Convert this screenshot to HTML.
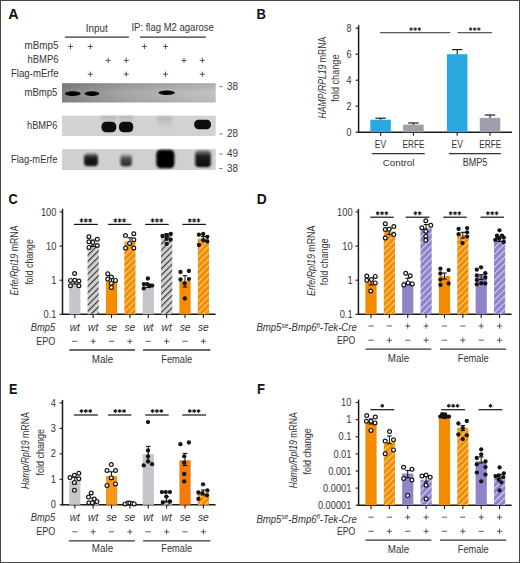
<!DOCTYPE html>
<html><head><meta charset="utf-8"><title>Figure</title>
<style>html,body{margin:0;padding:0;background:#fff;width:520px;height:563px;overflow:hidden}
text{font-family:"Liberation Sans", sans-serif}</style></head>
<body><svg width="520" height="563" viewBox="0 0 520 563" style="display:block;font-family:&quot;Liberation Sans&quot;, sans-serif"><text x="8.20" y="19.30" font-size="14.5" textLength="10.4" lengthAdjust="spacingAndGlyphs" style="font-weight:bold;" fill="#111">A</text>
<text x="256.50" y="19.30" font-size="14.5" textLength="9.4" lengthAdjust="spacingAndGlyphs" style="font-weight:bold;" fill="#111">B</text>
<text x="8.50" y="204.00" font-size="14.5" textLength="9.2" lengthAdjust="spacingAndGlyphs" style="font-weight:bold;" fill="#111">C</text>
<text x="256.70" y="204.00" font-size="14.5" textLength="10.0" lengthAdjust="spacingAndGlyphs" style="font-weight:bold;" fill="#111">D</text>
<text x="8.90" y="394.00" font-size="14.5" textLength="8.4" lengthAdjust="spacingAndGlyphs" style="font-weight:bold;" fill="#111">E</text>
<text x="257.00" y="393.70" font-size="14.5" textLength="8.0" lengthAdjust="spacingAndGlyphs" style="font-weight:bold;" fill="#111">F</text>
<text x="85.80" y="31.50" font-size="10.2" textLength="21.9" lengthAdjust="spacingAndGlyphs" style="" fill="#353535">Input</text>
<text x="131.40" y="31.40" font-size="10.2" textLength="82.5" lengthAdjust="spacingAndGlyphs" style="" fill="#353535">IP: flag M2 agarose</text>
<line x1="64.90" y1="37.20" x2="128.90" y2="37.20" stroke="#353535" stroke-width="1.3"/>
<line x1="140.00" y1="37.20" x2="205.80" y2="37.20" stroke="#353535" stroke-width="1.3"/>
<text x="58.50" y="49.20" font-size="10.2" text-anchor="end" textLength="34.0" lengthAdjust="spacingAndGlyphs" style="" fill="#353535">mBmp5</text>
<text x="58.50" y="62.70" font-size="10.2" text-anchor="end" textLength="31.1" lengthAdjust="spacingAndGlyphs" style="" fill="#353535">hBMP6</text>
<text x="58.50" y="77.00" font-size="10.2" text-anchor="end" textLength="47.5" lengthAdjust="spacingAndGlyphs" style="" fill="#353535">Flag-mErfe</text>
<line x1="67.90" y1="46.50" x2="73.10" y2="46.50" stroke="#333" stroke-width="0.8"/>
<line x1="70.50" y1="43.90" x2="70.50" y2="49.10" stroke="#333" stroke-width="0.8"/>
<line x1="87.70" y1="46.50" x2="92.90" y2="46.50" stroke="#333" stroke-width="0.8"/>
<line x1="90.30" y1="43.90" x2="90.30" y2="49.10" stroke="#333" stroke-width="0.8"/>
<line x1="141.80" y1="46.50" x2="147.00" y2="46.50" stroke="#333" stroke-width="0.8"/>
<line x1="144.40" y1="43.90" x2="144.40" y2="49.10" stroke="#333" stroke-width="0.8"/>
<line x1="162.90" y1="46.50" x2="168.10" y2="46.50" stroke="#333" stroke-width="0.8"/>
<line x1="165.50" y1="43.90" x2="165.50" y2="49.10" stroke="#333" stroke-width="0.8"/>
<line x1="105.60" y1="60.40" x2="110.80" y2="60.40" stroke="#333" stroke-width="0.8"/>
<line x1="108.20" y1="57.80" x2="108.20" y2="63.00" stroke="#333" stroke-width="0.8"/>
<line x1="123.60" y1="60.40" x2="128.80" y2="60.40" stroke="#333" stroke-width="0.8"/>
<line x1="126.20" y1="57.80" x2="126.20" y2="63.00" stroke="#333" stroke-width="0.8"/>
<line x1="181.40" y1="60.40" x2="186.60" y2="60.40" stroke="#333" stroke-width="0.8"/>
<line x1="184.00" y1="57.80" x2="184.00" y2="63.00" stroke="#333" stroke-width="0.8"/>
<line x1="199.70" y1="60.40" x2="204.90" y2="60.40" stroke="#333" stroke-width="0.8"/>
<line x1="202.30" y1="57.80" x2="202.30" y2="63.00" stroke="#333" stroke-width="0.8"/>
<line x1="87.70" y1="74.20" x2="92.90" y2="74.20" stroke="#333" stroke-width="0.8"/>
<line x1="90.30" y1="71.60" x2="90.30" y2="76.80" stroke="#333" stroke-width="0.8"/>
<line x1="123.60" y1="74.20" x2="128.80" y2="74.20" stroke="#333" stroke-width="0.8"/>
<line x1="126.20" y1="71.60" x2="126.20" y2="76.80" stroke="#333" stroke-width="0.8"/>
<line x1="162.90" y1="74.20" x2="168.10" y2="74.20" stroke="#333" stroke-width="0.8"/>
<line x1="165.50" y1="71.60" x2="165.50" y2="76.80" stroke="#333" stroke-width="0.8"/>
<line x1="199.70" y1="74.20" x2="204.90" y2="74.20" stroke="#333" stroke-width="0.8"/>
<line x1="202.30" y1="71.60" x2="202.30" y2="76.80" stroke="#333" stroke-width="0.8"/>
<defs><linearGradient id="g1" x1="0" y1="0" x2="1" y2="0"><stop offset="0" stop-color="#858585"/><stop offset="0.2" stop-color="#979797"/><stop offset="0.45" stop-color="#aaaaaa"/><stop offset="0.75" stop-color="#bababa"/><stop offset="1" stop-color="#c4c4c4"/></linearGradient><linearGradient id="g1v" x1="0" y1="0" x2="0" y2="1"><stop offset="0" stop-color="#000" stop-opacity="0.12"/><stop offset="0.5" stop-color="#000" stop-opacity="0"/><stop offset="1" stop-color="#000" stop-opacity="0.06"/></linearGradient><linearGradient id="gb3" x1="0" y1="0" x2="0" y2="1"><stop offset="0" stop-color="#111" stop-opacity="0.45"/><stop offset="0.35" stop-color="#111" stop-opacity="0.92"/><stop offset="1" stop-color="#050505" stop-opacity="1"/></linearGradient><linearGradient id="gb4" x1="0" y1="0" x2="0" y2="1"><stop offset="0" stop-color="#222" stop-opacity="0.3"/><stop offset="0.4" stop-color="#1a1a1a" stop-opacity="0.75"/><stop offset="1" stop-color="#111" stop-opacity="0.9"/></linearGradient><linearGradient id="gsm" x1="0" y1="0" x2="0" y2="1"><stop offset="0" stop-color="#999" stop-opacity="0.55"/><stop offset="1" stop-color="#bbb" stop-opacity="0"/></linearGradient><filter id="bl" x="-50%" y="-50%" width="200%" height="200%"><feGaussianBlur stdDeviation="0.7"/></filter><filter id="bl2" x="-50%" y="-50%" width="200%" height="200%"><feGaussianBlur stdDeviation="1.2"/></filter></defs>
<rect x="62.00" y="83.20" width="153.70" height="19.30" fill="url(#g1)"/>
<rect x="62.00" y="83.20" width="153.70" height="19.30" fill="url(#g1v)"/>
<rect x="62.00" y="115.60" width="153.70" height="20.40" fill="#d2d2d2"/>
<rect x="62.00" y="149.20" width="153.70" height="20.80" fill="#d0d0d0"/>
<ellipse cx="72.7" cy="93.6" rx="7.9" ry="2.4" fill="#060606" filter="url(#bl)"/>
<ellipse cx="92" cy="93.6" rx="7.4" ry="2.3" fill="#060606" filter="url(#bl)"/>
<ellipse cx="166.7" cy="92.8" rx="8.3" ry="2.2" fill="#060606" filter="url(#bl)"/>
<rect x="101" y="116" width="15" height="9" fill="url(#gsm)" filter="url(#bl2)"/>
<rect x="119" y="116" width="14" height="9" fill="url(#gsm)" filter="url(#bl2)"/>
<rect x="157" y="116.5" width="15" height="13" fill="url(#gsm)" filter="url(#bl2)"/>
<rect x="101.50" y="121.80" width="14.80" height="10.40" rx="4.5" fill="#080808" filter="url(#bl)"/>
<rect x="119.00" y="121.80" width="14.20" height="10.40" rx="4.5" fill="#080808" filter="url(#bl)"/>
<rect x="194.20" y="119.80" width="16.80" height="9.40" rx="4.5" fill="#080808" filter="url(#bl)"/>
<rect x="84.00" y="153.50" width="14.00" height="12.50" rx="3.5" fill="url(#gb3)" filter="url(#bl2)"/>
<rect x="120.40" y="154.50" width="11.40" height="11.70" rx="3" fill="url(#gb4)" filter="url(#bl2)"/>
<rect x="156.30" y="149.80" width="18.10" height="18.50" rx="4.5" fill="#050505" filter="url(#bl2)"/>
<rect x="195.20" y="150.50" width="15.60" height="16.50" rx="3.5" fill="url(#gb3)" filter="url(#bl2)"/>
<text x="57.40" y="96.00" font-size="10.2" text-anchor="end" textLength="32.9" lengthAdjust="spacingAndGlyphs" style="" fill="#353535">mBmp5</text>
<text x="57.40" y="129.00" font-size="10.2" text-anchor="end" textLength="30.4" lengthAdjust="spacingAndGlyphs" style="" fill="#353535">hBMP6</text>
<text x="57.40" y="163.10" font-size="10.2" text-anchor="end" textLength="46.4" lengthAdjust="spacingAndGlyphs" style="" fill="#353535">Flag-mErfe</text>
<line x1="219.50" y1="86.60" x2="222.30" y2="86.60" stroke="#444" stroke-width="0.8"/>
<text x="226.90" y="90.00" font-size="10.2" textLength="11.0" lengthAdjust="spacingAndGlyphs" style="" fill="#353535">38</text>
<line x1="219.50" y1="133.90" x2="222.30" y2="133.90" stroke="#444" stroke-width="0.8"/>
<text x="226.90" y="137.30" font-size="10.2" textLength="11.0" lengthAdjust="spacingAndGlyphs" style="" fill="#353535">28</text>
<line x1="219.50" y1="154.00" x2="222.30" y2="154.00" stroke="#444" stroke-width="0.8"/>
<text x="226.90" y="157.40" font-size="10.2" textLength="11.0" lengthAdjust="spacingAndGlyphs" style="" fill="#353535">49</text>
<line x1="219.50" y1="168.50" x2="222.30" y2="168.50" stroke="#444" stroke-width="0.8"/>
<text x="226.90" y="171.90" font-size="10.2" textLength="11.0" lengthAdjust="spacingAndGlyphs" style="" fill="#353535">38</text>
<line x1="358.60" y1="25.20" x2="358.60" y2="132.90" stroke="#1a1a1a" stroke-width="1.5"/>
<line x1="357.90" y1="132.20" x2="512.00" y2="132.20" stroke="#1a1a1a" stroke-width="1.5"/>
<line x1="355.60" y1="132.20" x2="358.60" y2="132.20" stroke="#1a1a1a" stroke-width="1.1"/>
<text x="351.50" y="135.80" font-size="10.3" text-anchor="end" textLength="5.0" lengthAdjust="spacingAndGlyphs" style="" fill="#353535">0</text>
<line x1="355.60" y1="106.20" x2="358.60" y2="106.20" stroke="#1a1a1a" stroke-width="1.1"/>
<text x="351.50" y="109.80" font-size="10.3" text-anchor="end" textLength="5.0" lengthAdjust="spacingAndGlyphs" style="" fill="#353535">2</text>
<line x1="355.60" y1="80.20" x2="358.60" y2="80.20" stroke="#1a1a1a" stroke-width="1.1"/>
<text x="351.50" y="83.80" font-size="10.3" text-anchor="end" textLength="5.0" lengthAdjust="spacingAndGlyphs" style="" fill="#353535">4</text>
<line x1="355.60" y1="54.20" x2="358.60" y2="54.20" stroke="#1a1a1a" stroke-width="1.1"/>
<text x="351.50" y="57.80" font-size="10.3" text-anchor="end" textLength="5.0" lengthAdjust="spacingAndGlyphs" style="" fill="#353535">6</text>
<line x1="355.60" y1="28.20" x2="358.60" y2="28.20" stroke="#1a1a1a" stroke-width="1.1"/>
<text x="351.50" y="31.80" font-size="10.3" text-anchor="end" textLength="5.0" lengthAdjust="spacingAndGlyphs" style="" fill="#353535">8</text>
<rect x="370.35" y="119.72" width="20.50" height="12.48" fill="#29a9e0"/>
<line x1="380.60" y1="119.72" x2="380.60" y2="118.20" stroke="#1a1a1a" stroke-width="1.1"/>
<line x1="375.40" y1="118.20" x2="385.80" y2="118.20" stroke="#1a1a1a" stroke-width="1.2"/>
<line x1="380.60" y1="132.20" x2="380.60" y2="135.80" stroke="#1a1a1a" stroke-width="1.1"/>
<rect x="403.15" y="124.66" width="20.50" height="7.54" fill="#a09eab"/>
<line x1="413.40" y1="124.66" x2="413.40" y2="123.00" stroke="#1a1a1a" stroke-width="1.1"/>
<line x1="408.20" y1="123.00" x2="418.60" y2="123.00" stroke="#1a1a1a" stroke-width="1.2"/>
<line x1="413.40" y1="132.20" x2="413.40" y2="135.80" stroke="#1a1a1a" stroke-width="1.1"/>
<rect x="446.95" y="54.20" width="20.50" height="78.00" fill="#29a9e0"/>
<line x1="457.20" y1="54.20" x2="457.20" y2="49.60" stroke="#1a1a1a" stroke-width="1.1"/>
<line x1="452.00" y1="49.60" x2="462.40" y2="49.60" stroke="#1a1a1a" stroke-width="1.2"/>
<line x1="457.20" y1="132.20" x2="457.20" y2="135.80" stroke="#1a1a1a" stroke-width="1.1"/>
<rect x="479.75" y="117.90" width="20.50" height="14.30" fill="#a09eab"/>
<line x1="490.00" y1="117.90" x2="490.00" y2="115.00" stroke="#1a1a1a" stroke-width="1.1"/>
<line x1="484.80" y1="115.00" x2="495.20" y2="115.00" stroke="#1a1a1a" stroke-width="1.2"/>
<line x1="490.00" y1="132.20" x2="490.00" y2="135.80" stroke="#1a1a1a" stroke-width="1.1"/>
<text x="380.40" y="148.00" font-size="10.8" text-anchor="middle" textLength="11.3" lengthAdjust="spacingAndGlyphs" style="" fill="#353535">EV</text>
<text x="413.50" y="148.00" font-size="10.8" text-anchor="middle" textLength="22.0" lengthAdjust="spacingAndGlyphs" style="" fill="#353535">ERFE</text>
<text x="457.20" y="148.00" font-size="10.8" text-anchor="middle" textLength="11.3" lengthAdjust="spacingAndGlyphs" style="" fill="#353535">EV</text>
<text x="490.20" y="148.00" font-size="10.8" text-anchor="middle" textLength="22.0" lengthAdjust="spacingAndGlyphs" style="" fill="#353535">ERFE</text>
<line x1="371.90" y1="153.70" x2="424.70" y2="153.70" stroke="#353535" stroke-width="1.3"/>
<line x1="448.90" y1="153.70" x2="500.80" y2="153.70" stroke="#353535" stroke-width="1.3"/>
<text x="398.60" y="165.80" font-size="9.8" text-anchor="middle" textLength="31.8" lengthAdjust="spacingAndGlyphs" style="" fill="#353535">Control</text>
<text x="475.10" y="165.80" font-size="10" text-anchor="middle" textLength="24.6" lengthAdjust="spacingAndGlyphs" style="" fill="#353535">BMP5</text>
<line x1="380.00" y1="32.70" x2="450.30" y2="32.70" stroke="#5a5a5a" stroke-width="1.3"/>
<line x1="457.70" y1="32.70" x2="492.00" y2="32.70" stroke="#5a5a5a" stroke-width="1.3"/>
<path d="M411.10,27.65L411.10,30.35M412.27,28.32L409.93,29.68M412.27,29.68L409.93,28.32" stroke="#3a3a3a" stroke-width="1.05" stroke-linecap="round"/>
<path d="M415.20,27.65L415.20,30.35M416.37,28.32L414.03,29.68M416.37,29.68L414.03,28.32" stroke="#3a3a3a" stroke-width="1.05" stroke-linecap="round"/>
<path d="M419.30,27.65L419.30,30.35M420.47,28.32L418.13,29.68M420.47,29.68L418.13,28.32" stroke="#3a3a3a" stroke-width="1.05" stroke-linecap="round"/>
<path d="M470.70,27.65L470.70,30.35M471.87,28.32L469.53,29.68M471.87,29.68L469.53,28.32" stroke="#3a3a3a" stroke-width="1.05" stroke-linecap="round"/>
<path d="M474.80,27.65L474.80,30.35M475.97,28.32L473.63,29.68M475.97,29.68L473.63,28.32" stroke="#3a3a3a" stroke-width="1.05" stroke-linecap="round"/>
<path d="M478.90,27.65L478.90,30.35M480.07,28.32L477.73,29.68M480.07,29.68L477.73,28.32" stroke="#3a3a3a" stroke-width="1.05" stroke-linecap="round"/>
<text transform="translate(326.00,77.60) rotate(-90)" font-size="11.6" text-anchor="middle" textLength="81.8" lengthAdjust="spacingAndGlyphs" style="" fill="#353535"><tspan style="font-style:italic">HAMP/RPL19</tspan> mRNA</text>
<text transform="translate(338.60,78.10) rotate(-90)" font-size="10.2" text-anchor="middle" textLength="47.2" lengthAdjust="spacingAndGlyphs" style="" fill="#353535">fold change</text>
<defs><pattern id="hg" width="4.4" height="4.4" patternUnits="userSpaceOnUse" patternTransform="rotate(45)"><rect width="4.4" height="4.4" fill="#d0d0d5"/><rect x="0" y="0" width="1.1" height="4.4" fill="#333333"/></pattern></defs>
<defs><pattern id="ho" width="4.4" height="4.4" patternUnits="userSpaceOnUse" patternTransform="rotate(45)"><rect width="4.4" height="4.4" fill="#f08c0a"/><rect x="0" y="0" width="1.1" height="4.4" fill="#ffcf6e"/></pattern></defs>
<defs><pattern id="hp" width="4.6" height="4.6" patternUnits="userSpaceOnUse" patternTransform="rotate(45)"><rect width="4.6" height="4.6" fill="#9084c8"/><rect x="0" y="0" width="0.95" height="4.6" fill="#ddd6ff"/></pattern></defs>
<line x1="62.50" y1="208.90" x2="62.50" y2="315.00" stroke="#1a1a1a" stroke-width="1.5"/>
<line x1="61.80" y1="314.30" x2="215.60" y2="314.30" stroke="#1a1a1a" stroke-width="1.5"/>
<line x1="59.60" y1="211.90" x2="62.50" y2="211.90" stroke="#1a1a1a" stroke-width="1.1"/>
<text x="56.40" y="215.50" font-size="10.3" text-anchor="end" textLength="15.5" lengthAdjust="spacingAndGlyphs" style="" fill="#353535">100</text>
<line x1="59.60" y1="246.10" x2="62.50" y2="246.10" stroke="#1a1a1a" stroke-width="1.1"/>
<text x="56.40" y="249.70" font-size="10.3" text-anchor="end" textLength="10.3" lengthAdjust="spacingAndGlyphs" style="" fill="#353535">10</text>
<line x1="59.60" y1="280.20" x2="62.50" y2="280.20" stroke="#1a1a1a" stroke-width="1.1"/>
<text x="56.40" y="283.80" font-size="10.3" text-anchor="end" textLength="5.2" lengthAdjust="spacingAndGlyphs" style="" fill="#353535">1</text>
<line x1="59.60" y1="314.30" x2="62.50" y2="314.30" stroke="#1a1a1a" stroke-width="1.1"/>
<text x="56.40" y="317.90" font-size="10.3" text-anchor="end" textLength="12.9" lengthAdjust="spacingAndGlyphs" style="" fill="#353535">0.1</text>
<rect x="69.20" y="282.60" width="11.20" height="31.70" fill="#c6c5cb"/>
<line x1="74.80" y1="314.30" x2="74.80" y2="318.10" stroke="#1a1a1a" stroke-width="1.1"/>
<rect x="87.57" y="244.80" width="11.20" height="69.50" fill="url(#hg)"/>
<line x1="93.17" y1="314.30" x2="93.17" y2="318.10" stroke="#1a1a1a" stroke-width="1.1"/>
<rect x="105.94" y="281.00" width="11.20" height="33.30" fill="#f58c00"/>
<line x1="111.54" y1="314.30" x2="111.54" y2="318.10" stroke="#1a1a1a" stroke-width="1.1"/>
<rect x="124.31" y="241.30" width="11.20" height="73.00" fill="url(#ho)"/>
<line x1="129.91" y1="314.30" x2="129.91" y2="318.10" stroke="#1a1a1a" stroke-width="1.1"/>
<rect x="142.68" y="286.20" width="11.20" height="28.10" fill="#c6c5cb"/>
<line x1="148.28" y1="314.30" x2="148.28" y2="318.10" stroke="#1a1a1a" stroke-width="1.1"/>
<rect x="161.05" y="235.60" width="11.20" height="78.70" fill="url(#hg)"/>
<line x1="166.65" y1="314.30" x2="166.65" y2="318.10" stroke="#1a1a1a" stroke-width="1.1"/>
<rect x="179.42" y="281.00" width="11.20" height="33.30" fill="#f58c00"/>
<line x1="185.02" y1="314.30" x2="185.02" y2="318.10" stroke="#1a1a1a" stroke-width="1.1"/>
<rect x="197.79" y="238.70" width="11.20" height="75.60" fill="url(#ho)"/>
<line x1="203.39" y1="314.30" x2="203.39" y2="318.10" stroke="#1a1a1a" stroke-width="1.1"/>
<line x1="73.90" y1="224.40" x2="97.80" y2="224.40" stroke="#151515" stroke-width="1.2"/>
<path d="M81.50,218.85L81.50,221.95M82.84,219.62L80.16,221.18M82.84,221.18L80.16,219.62" stroke="#1a1a1a" stroke-width="1.05" stroke-linecap="round"/>
<path d="M85.85,218.85L85.85,221.95M87.19,219.62L84.51,221.18M87.19,221.18L84.51,219.62" stroke="#1a1a1a" stroke-width="1.05" stroke-linecap="round"/>
<path d="M90.20,218.85L90.20,221.95M91.54,219.62L88.86,221.18M91.54,221.18L88.86,219.62" stroke="#1a1a1a" stroke-width="1.05" stroke-linecap="round"/>
<line x1="108.00" y1="224.40" x2="131.40" y2="224.40" stroke="#151515" stroke-width="1.2"/>
<path d="M115.35,218.85L115.35,221.95M116.69,219.62L114.01,221.18M116.69,221.18L114.01,219.62" stroke="#1a1a1a" stroke-width="1.05" stroke-linecap="round"/>
<path d="M119.70,218.85L119.70,221.95M121.04,219.62L118.36,221.18M121.04,221.18L118.36,219.62" stroke="#1a1a1a" stroke-width="1.05" stroke-linecap="round"/>
<path d="M124.05,218.85L124.05,221.95M125.39,219.62L122.71,221.18M125.39,221.18L122.71,219.62" stroke="#1a1a1a" stroke-width="1.05" stroke-linecap="round"/>
<line x1="145.20" y1="224.40" x2="168.70" y2="224.40" stroke="#151515" stroke-width="1.2"/>
<path d="M152.60,218.85L152.60,221.95M153.94,219.62L151.26,221.18M153.94,221.18L151.26,219.62" stroke="#1a1a1a" stroke-width="1.05" stroke-linecap="round"/>
<path d="M156.95,218.85L156.95,221.95M158.29,219.62L155.61,221.18M158.29,221.18L155.61,219.62" stroke="#1a1a1a" stroke-width="1.05" stroke-linecap="round"/>
<path d="M161.30,218.85L161.30,221.95M162.64,219.62L159.96,221.18M162.64,221.18L159.96,219.62" stroke="#1a1a1a" stroke-width="1.05" stroke-linecap="round"/>
<line x1="182.30" y1="224.40" x2="206.00" y2="224.40" stroke="#151515" stroke-width="1.2"/>
<path d="M189.80,218.85L189.80,221.95M191.14,219.62L188.46,221.18M191.14,221.18L188.46,219.62" stroke="#1a1a1a" stroke-width="1.05" stroke-linecap="round"/>
<path d="M194.15,218.85L194.15,221.95M195.49,219.62L192.81,221.18M195.49,221.18L192.81,219.62" stroke="#1a1a1a" stroke-width="1.05" stroke-linecap="round"/>
<path d="M198.50,218.85L198.50,221.95M199.84,219.62L197.16,221.18M199.84,221.18L197.16,219.62" stroke="#1a1a1a" stroke-width="1.05" stroke-linecap="round"/>
<line x1="69.30" y1="350.00" x2="135.00" y2="350.00" stroke="#353535" stroke-width="1.3"/>
<line x1="143.00" y1="350.00" x2="210.40" y2="350.00" stroke="#353535" stroke-width="1.3"/>
<text x="102.50" y="362.60" font-size="10.5" text-anchor="middle" textLength="21.3" lengthAdjust="spacingAndGlyphs" style="" fill="#353535">Male</text>
<text x="176.70" y="362.60" font-size="10.5" text-anchor="middle" textLength="30.8" lengthAdjust="spacingAndGlyphs" style="" fill="#353535">Female</text>
<text x="55.20" y="330.50" font-size="10.3" text-anchor="end" textLength="24.4" lengthAdjust="spacingAndGlyphs" style="font-style:italic;" fill="#353535">Bmp5</text>
<text x="55.20" y="344.50" font-size="10.3" text-anchor="end" textLength="19.0" lengthAdjust="spacingAndGlyphs" style="" fill="#353535">EPO</text>
<text x="74.80" y="330.50" font-size="10.2" text-anchor="middle" style="font-style:italic;" fill="#353535">wt</text>
<text x="93.17" y="330.50" font-size="10.2" text-anchor="middle" style="font-style:italic;" fill="#353535">wt</text>
<text x="111.54" y="330.50" font-size="10.2" text-anchor="middle" style="font-style:italic;" fill="#353535">se</text>
<text x="129.91" y="330.50" font-size="10.2" text-anchor="middle" style="font-style:italic;" fill="#353535">se</text>
<text x="148.28" y="330.50" font-size="10.2" text-anchor="middle" style="font-style:italic;" fill="#353535">wt</text>
<text x="166.65" y="330.50" font-size="10.2" text-anchor="middle" style="font-style:italic;" fill="#353535">wt</text>
<text x="185.02" y="330.50" font-size="10.2" text-anchor="middle" style="font-style:italic;" fill="#353535">se</text>
<text x="203.39" y="330.50" font-size="10.2" text-anchor="middle" style="font-style:italic;" fill="#353535">se</text>
<line x1="72.20" y1="341.30" x2="77.40" y2="341.30" stroke="#333" stroke-width="0.8"/>
<line x1="90.57" y1="341.30" x2="95.77" y2="341.30" stroke="#333" stroke-width="0.8"/>
<line x1="93.17" y1="338.70" x2="93.17" y2="343.90" stroke="#333" stroke-width="0.8"/>
<line x1="108.94" y1="341.30" x2="114.14" y2="341.30" stroke="#333" stroke-width="0.8"/>
<line x1="127.31" y1="341.30" x2="132.51" y2="341.30" stroke="#333" stroke-width="0.8"/>
<line x1="129.91" y1="338.70" x2="129.91" y2="343.90" stroke="#333" stroke-width="0.8"/>
<line x1="145.68" y1="341.30" x2="150.88" y2="341.30" stroke="#333" stroke-width="0.8"/>
<line x1="164.05" y1="341.30" x2="169.25" y2="341.30" stroke="#333" stroke-width="0.8"/>
<line x1="166.65" y1="338.70" x2="166.65" y2="343.90" stroke="#333" stroke-width="0.8"/>
<line x1="182.42" y1="341.30" x2="187.62" y2="341.30" stroke="#333" stroke-width="0.8"/>
<line x1="200.79" y1="341.30" x2="205.99" y2="341.30" stroke="#333" stroke-width="0.8"/>
<line x1="203.39" y1="338.70" x2="203.39" y2="343.90" stroke="#333" stroke-width="0.8"/>
<text transform="translate(17.80,260.40) rotate(-90)" font-size="11.6" text-anchor="middle" textLength="70.0" lengthAdjust="spacingAndGlyphs" style="" fill="#353535"><tspan style="font-style:italic">Erfe/Rpl19</tspan> mRNA</text>
<text transform="translate(33.00,261.90) rotate(-90)" font-size="10.2" text-anchor="middle" textLength="45.4" lengthAdjust="spacingAndGlyphs" style="" fill="#353535">fold change</text>
<line x1="358.40" y1="208.90" x2="358.40" y2="315.00" stroke="#1a1a1a" stroke-width="1.5"/>
<line x1="357.70" y1="314.30" x2="511.60" y2="314.30" stroke="#1a1a1a" stroke-width="1.5"/>
<line x1="355.50" y1="211.90" x2="358.40" y2="211.90" stroke="#1a1a1a" stroke-width="1.1"/>
<text x="352.60" y="215.50" font-size="10.3" text-anchor="end" textLength="15.5" lengthAdjust="spacingAndGlyphs" style="" fill="#353535">100</text>
<line x1="355.50" y1="246.10" x2="358.40" y2="246.10" stroke="#1a1a1a" stroke-width="1.1"/>
<text x="352.60" y="249.70" font-size="10.3" text-anchor="end" textLength="10.3" lengthAdjust="spacingAndGlyphs" style="" fill="#353535">10</text>
<line x1="355.50" y1="280.20" x2="358.40" y2="280.20" stroke="#1a1a1a" stroke-width="1.1"/>
<text x="352.60" y="283.80" font-size="10.3" text-anchor="end" textLength="5.2" lengthAdjust="spacingAndGlyphs" style="" fill="#353535">1</text>
<line x1="355.50" y1="314.30" x2="358.40" y2="314.30" stroke="#1a1a1a" stroke-width="1.1"/>
<text x="352.60" y="317.90" font-size="10.3" text-anchor="end" textLength="12.9" lengthAdjust="spacingAndGlyphs" style="" fill="#353535">0.1</text>
<rect x="365.40" y="282.10" width="11.20" height="32.20" fill="#f58c00"/>
<line x1="371.00" y1="314.30" x2="371.00" y2="318.10" stroke="#1a1a1a" stroke-width="1.1"/>
<rect x="383.77" y="231.50" width="11.20" height="82.80" fill="url(#ho)"/>
<line x1="389.37" y1="314.30" x2="389.37" y2="318.10" stroke="#1a1a1a" stroke-width="1.1"/>
<rect x="402.14" y="281.50" width="11.20" height="32.80" fill="#9084c8"/>
<line x1="407.74" y1="314.30" x2="407.74" y2="318.10" stroke="#1a1a1a" stroke-width="1.1"/>
<rect x="420.51" y="227.90" width="11.20" height="86.40" fill="url(#hp)"/>
<line x1="426.11" y1="314.30" x2="426.11" y2="318.10" stroke="#1a1a1a" stroke-width="1.1"/>
<rect x="438.88" y="276.00" width="11.20" height="38.30" fill="#f58c00"/>
<line x1="444.48" y1="314.30" x2="444.48" y2="318.10" stroke="#1a1a1a" stroke-width="1.1"/>
<rect x="457.25" y="235.20" width="11.20" height="79.10" fill="url(#ho)"/>
<line x1="462.85" y1="314.30" x2="462.85" y2="318.10" stroke="#1a1a1a" stroke-width="1.1"/>
<rect x="475.62" y="275.40" width="11.20" height="38.90" fill="#9084c8"/>
<line x1="481.22" y1="314.30" x2="481.22" y2="318.10" stroke="#1a1a1a" stroke-width="1.1"/>
<rect x="493.99" y="239.70" width="11.20" height="74.60" fill="url(#hp)"/>
<line x1="499.59" y1="314.30" x2="499.59" y2="318.10" stroke="#1a1a1a" stroke-width="1.1"/>
<line x1="370.30" y1="217.20" x2="393.80" y2="217.20" stroke="#151515" stroke-width="1.2"/>
<path d="M377.70,211.65L377.70,214.75M379.04,212.42L376.36,213.97M379.04,213.97L376.36,212.42" stroke="#1a1a1a" stroke-width="1.05" stroke-linecap="round"/>
<path d="M382.05,211.65L382.05,214.75M383.39,212.42L380.71,213.97M383.39,213.97L380.71,212.42" stroke="#1a1a1a" stroke-width="1.05" stroke-linecap="round"/>
<path d="M386.40,211.65L386.40,214.75M387.74,212.42L385.06,213.97M387.74,213.97L385.06,212.42" stroke="#1a1a1a" stroke-width="1.05" stroke-linecap="round"/>
<line x1="405.60" y1="217.20" x2="429.50" y2="217.20" stroke="#151515" stroke-width="1.2"/>
<path d="M415.38,211.65L415.38,214.75M416.72,212.42L414.03,213.97M416.72,213.97L414.03,212.42" stroke="#1a1a1a" stroke-width="1.05" stroke-linecap="round"/>
<path d="M419.73,211.65L419.73,214.75M421.07,212.42L418.38,213.97M421.07,213.97L418.38,212.42" stroke="#1a1a1a" stroke-width="1.05" stroke-linecap="round"/>
<line x1="443.30" y1="217.20" x2="466.70" y2="217.20" stroke="#151515" stroke-width="1.2"/>
<path d="M450.65,211.65L450.65,214.75M451.99,212.42L449.31,213.97M451.99,213.97L449.31,212.42" stroke="#1a1a1a" stroke-width="1.05" stroke-linecap="round"/>
<path d="M455.00,211.65L455.00,214.75M456.34,212.42L453.66,213.97M456.34,213.97L453.66,212.42" stroke="#1a1a1a" stroke-width="1.05" stroke-linecap="round"/>
<path d="M459.35,211.65L459.35,214.75M460.69,212.42L458.01,213.97M460.69,213.97L458.01,212.42" stroke="#1a1a1a" stroke-width="1.05" stroke-linecap="round"/>
<line x1="480.60" y1="217.20" x2="503.90" y2="217.20" stroke="#151515" stroke-width="1.2"/>
<path d="M487.90,211.65L487.90,214.75M489.24,212.42L486.56,213.97M489.24,213.97L486.56,212.42" stroke="#1a1a1a" stroke-width="1.05" stroke-linecap="round"/>
<path d="M492.25,211.65L492.25,214.75M493.59,212.42L490.91,213.97M493.59,213.97L490.91,212.42" stroke="#1a1a1a" stroke-width="1.05" stroke-linecap="round"/>
<path d="M496.60,211.65L496.60,214.75M497.94,212.42L495.26,213.97M497.94,213.97L495.26,212.42" stroke="#1a1a1a" stroke-width="1.05" stroke-linecap="round"/>
<line x1="365.50" y1="349.20" x2="431.40" y2="349.20" stroke="#353535" stroke-width="1.3"/>
<line x1="440.00" y1="349.20" x2="506.20" y2="349.20" stroke="#353535" stroke-width="1.3"/>
<text x="398.50" y="361.70" font-size="10.5" text-anchor="middle" textLength="21.3" lengthAdjust="spacingAndGlyphs" style="" fill="#353535">Male</text>
<text x="473.20" y="361.70" font-size="10.5" text-anchor="middle" textLength="30.8" lengthAdjust="spacingAndGlyphs" style="" fill="#353535">Female</text>
<text x="356.80" y="331.30" font-size="10.3" text-anchor="end" textLength="100.4" lengthAdjust="spacingAndGlyphs" style="" fill="#353535"><tspan style="font-style:italic">Bmp5</tspan><tspan font-size="7" dy="-3.8" style="font-style:italic">se</tspan><tspan dy="3.8" style="font-style:italic">-Bmp6</tspan><tspan font-size="7" dy="-3.8" style="font-style:italic">fl</tspan><tspan dy="3.8" style="font-style:italic">-Tek-Cre</tspan></text>
<text x="355.40" y="343.90" font-size="10.3" text-anchor="end" textLength="18.4" lengthAdjust="spacingAndGlyphs" style="" fill="#353535">EPO</text>
<line x1="368.40" y1="326.00" x2="373.60" y2="326.00" stroke="#333" stroke-width="0.8"/>
<line x1="386.77" y1="326.00" x2="391.97" y2="326.00" stroke="#333" stroke-width="0.8"/>
<line x1="405.14" y1="326.00" x2="410.34" y2="326.00" stroke="#333" stroke-width="0.8"/>
<line x1="407.74" y1="323.40" x2="407.74" y2="328.60" stroke="#333" stroke-width="0.8"/>
<line x1="423.51" y1="326.00" x2="428.71" y2="326.00" stroke="#333" stroke-width="0.8"/>
<line x1="426.11" y1="323.40" x2="426.11" y2="328.60" stroke="#333" stroke-width="0.8"/>
<line x1="441.88" y1="326.00" x2="447.08" y2="326.00" stroke="#333" stroke-width="0.8"/>
<line x1="460.25" y1="326.00" x2="465.45" y2="326.00" stroke="#333" stroke-width="0.8"/>
<line x1="478.62" y1="326.00" x2="483.82" y2="326.00" stroke="#333" stroke-width="0.8"/>
<line x1="481.22" y1="323.40" x2="481.22" y2="328.60" stroke="#333" stroke-width="0.8"/>
<line x1="496.99" y1="326.00" x2="502.19" y2="326.00" stroke="#333" stroke-width="0.8"/>
<line x1="499.59" y1="323.40" x2="499.59" y2="328.60" stroke="#333" stroke-width="0.8"/>
<line x1="368.40" y1="340.20" x2="373.60" y2="340.20" stroke="#333" stroke-width="0.8"/>
<line x1="386.77" y1="340.20" x2="391.97" y2="340.20" stroke="#333" stroke-width="0.8"/>
<line x1="389.37" y1="337.60" x2="389.37" y2="342.80" stroke="#333" stroke-width="0.8"/>
<line x1="405.14" y1="340.20" x2="410.34" y2="340.20" stroke="#333" stroke-width="0.8"/>
<line x1="423.51" y1="340.20" x2="428.71" y2="340.20" stroke="#333" stroke-width="0.8"/>
<line x1="426.11" y1="337.60" x2="426.11" y2="342.80" stroke="#333" stroke-width="0.8"/>
<line x1="441.88" y1="340.20" x2="447.08" y2="340.20" stroke="#333" stroke-width="0.8"/>
<line x1="460.25" y1="340.20" x2="465.45" y2="340.20" stroke="#333" stroke-width="0.8"/>
<line x1="462.85" y1="337.60" x2="462.85" y2="342.80" stroke="#333" stroke-width="0.8"/>
<line x1="478.62" y1="340.20" x2="483.82" y2="340.20" stroke="#333" stroke-width="0.8"/>
<line x1="496.99" y1="340.20" x2="502.19" y2="340.20" stroke="#333" stroke-width="0.8"/>
<line x1="499.59" y1="337.60" x2="499.59" y2="342.80" stroke="#333" stroke-width="0.8"/>
<text transform="translate(315.30,260.80) rotate(-90)" font-size="11.6" text-anchor="middle" textLength="70.4" lengthAdjust="spacingAndGlyphs" style="" fill="#353535"><tspan style="font-style:italic">Erfe/Rpl19</tspan> mRNA</text>
<text transform="translate(328.30,261.90) rotate(-90)" font-size="10.2" text-anchor="middle" textLength="46.9" lengthAdjust="spacingAndGlyphs" style="" fill="#353535">fold change</text>
<line x1="62.50" y1="399.90" x2="62.50" y2="505.50" stroke="#1a1a1a" stroke-width="1.5"/>
<line x1="61.80" y1="504.80" x2="215.60" y2="504.80" stroke="#1a1a1a" stroke-width="1.5"/>
<line x1="59.60" y1="504.80" x2="62.50" y2="504.80" stroke="#1a1a1a" stroke-width="1.1"/>
<text x="56.00" y="508.40" font-size="10.3" text-anchor="end" textLength="5.2" lengthAdjust="spacingAndGlyphs" style="" fill="#353535">0</text>
<line x1="59.60" y1="479.32" x2="62.50" y2="479.32" stroke="#1a1a1a" stroke-width="1.1"/>
<text x="56.00" y="482.93" font-size="10.3" text-anchor="end" textLength="5.2" lengthAdjust="spacingAndGlyphs" style="" fill="#353535">1</text>
<line x1="59.60" y1="453.85" x2="62.50" y2="453.85" stroke="#1a1a1a" stroke-width="1.1"/>
<text x="56.00" y="457.45" font-size="10.3" text-anchor="end" textLength="5.2" lengthAdjust="spacingAndGlyphs" style="" fill="#353535">2</text>
<line x1="59.60" y1="428.38" x2="62.50" y2="428.38" stroke="#1a1a1a" stroke-width="1.1"/>
<text x="56.00" y="431.98" font-size="10.3" text-anchor="end" textLength="5.2" lengthAdjust="spacingAndGlyphs" style="" fill="#353535">3</text>
<line x1="59.60" y1="402.90" x2="62.50" y2="402.90" stroke="#1a1a1a" stroke-width="1.1"/>
<text x="56.00" y="406.50" font-size="10.3" text-anchor="end" textLength="5.2" lengthAdjust="spacingAndGlyphs" style="" fill="#353535">4</text>
<rect x="69.20" y="480.70" width="11.20" height="24.10" fill="#c6c5cb"/>
<line x1="74.80" y1="504.80" x2="74.80" y2="508.60" stroke="#1a1a1a" stroke-width="1.1"/>
<rect x="87.57" y="501.00" width="11.20" height="3.80" fill="url(#hg)"/>
<line x1="93.17" y1="504.80" x2="93.17" y2="508.60" stroke="#1a1a1a" stroke-width="1.1"/>
<rect x="105.94" y="476.00" width="11.20" height="28.80" fill="#f7961a"/>
<line x1="111.54" y1="504.80" x2="111.54" y2="508.60" stroke="#1a1a1a" stroke-width="1.1"/>
<rect x="124.31" y="503.50" width="11.20" height="1.30" fill="url(#ho)"/>
<line x1="129.91" y1="504.80" x2="129.91" y2="508.60" stroke="#1a1a1a" stroke-width="1.1"/>
<rect x="142.68" y="454.20" width="11.20" height="50.60" fill="#c6c5cb"/>
<line x1="148.28" y1="504.80" x2="148.28" y2="508.60" stroke="#1a1a1a" stroke-width="1.1"/>
<rect x="161.05" y="500.00" width="11.20" height="4.80" fill="url(#hg)"/>
<line x1="166.65" y1="504.80" x2="166.65" y2="508.60" stroke="#1a1a1a" stroke-width="1.1"/>
<rect x="179.42" y="460.30" width="11.20" height="44.50" fill="#f47b10"/>
<line x1="185.02" y1="504.80" x2="185.02" y2="508.60" stroke="#1a1a1a" stroke-width="1.1"/>
<rect x="197.79" y="492.50" width="11.20" height="12.30" fill="url(#ho)"/>
<line x1="203.39" y1="504.80" x2="203.39" y2="508.60" stroke="#1a1a1a" stroke-width="1.1"/>
<line x1="73.90" y1="415.00" x2="97.80" y2="415.00" stroke="#151515" stroke-width="1.2"/>
<path d="M81.50,409.45L81.50,412.55M82.84,410.23L80.16,411.77M82.84,411.77L80.16,410.23" stroke="#1a1a1a" stroke-width="1.05" stroke-linecap="round"/>
<path d="M85.85,409.45L85.85,412.55M87.19,410.23L84.51,411.77M87.19,411.77L84.51,410.23" stroke="#1a1a1a" stroke-width="1.05" stroke-linecap="round"/>
<path d="M90.20,409.45L90.20,412.55M91.54,410.23L88.86,411.77M91.54,411.77L88.86,410.23" stroke="#1a1a1a" stroke-width="1.05" stroke-linecap="round"/>
<line x1="108.00" y1="415.00" x2="131.40" y2="415.00" stroke="#151515" stroke-width="1.2"/>
<path d="M115.35,409.45L115.35,412.55M116.69,410.23L114.01,411.77M116.69,411.77L114.01,410.23" stroke="#1a1a1a" stroke-width="1.05" stroke-linecap="round"/>
<path d="M119.70,409.45L119.70,412.55M121.04,410.23L118.36,411.77M121.04,411.77L118.36,410.23" stroke="#1a1a1a" stroke-width="1.05" stroke-linecap="round"/>
<path d="M124.05,409.45L124.05,412.55M125.39,410.23L122.71,411.77M125.39,411.77L122.71,410.23" stroke="#1a1a1a" stroke-width="1.05" stroke-linecap="round"/>
<line x1="145.20" y1="415.00" x2="168.70" y2="415.00" stroke="#151515" stroke-width="1.2"/>
<path d="M152.60,409.45L152.60,412.55M153.94,410.23L151.26,411.77M153.94,411.77L151.26,410.23" stroke="#1a1a1a" stroke-width="1.05" stroke-linecap="round"/>
<path d="M156.95,409.45L156.95,412.55M158.29,410.23L155.61,411.77M158.29,411.77L155.61,410.23" stroke="#1a1a1a" stroke-width="1.05" stroke-linecap="round"/>
<path d="M161.30,409.45L161.30,412.55M162.64,410.23L159.96,411.77M162.64,411.77L159.96,410.23" stroke="#1a1a1a" stroke-width="1.05" stroke-linecap="round"/>
<line x1="182.30" y1="415.00" x2="206.00" y2="415.00" stroke="#151515" stroke-width="1.2"/>
<path d="M189.80,409.45L189.80,412.55M191.14,410.23L188.46,411.77M191.14,411.77L188.46,410.23" stroke="#1a1a1a" stroke-width="1.05" stroke-linecap="round"/>
<path d="M194.15,409.45L194.15,412.55M195.49,410.23L192.81,411.77M195.49,411.77L192.81,410.23" stroke="#1a1a1a" stroke-width="1.05" stroke-linecap="round"/>
<path d="M198.50,409.45L198.50,412.55M199.84,410.23L197.16,411.77M199.84,411.77L197.16,410.23" stroke="#1a1a1a" stroke-width="1.05" stroke-linecap="round"/>
<line x1="68.80" y1="540.80" x2="135.00" y2="540.80" stroke="#353535" stroke-width="1.3"/>
<line x1="143.00" y1="540.80" x2="210.40" y2="540.80" stroke="#353535" stroke-width="1.3"/>
<text x="102.50" y="552.30" font-size="10.5" text-anchor="middle" textLength="21.3" lengthAdjust="spacingAndGlyphs" style="" fill="#353535">Male</text>
<text x="176.70" y="552.30" font-size="10.5" text-anchor="middle" textLength="30.8" lengthAdjust="spacingAndGlyphs" style="" fill="#353535">Female</text>
<text x="55.20" y="520.80" font-size="10.3" text-anchor="end" textLength="24.4" lengthAdjust="spacingAndGlyphs" style="font-style:italic;" fill="#353535">Bmp5</text>
<text x="55.20" y="535.20" font-size="10.3" text-anchor="end" textLength="19.0" lengthAdjust="spacingAndGlyphs" style="" fill="#353535">EPO</text>
<text x="74.80" y="520.80" font-size="10.2" text-anchor="middle" style="font-style:italic;" fill="#353535">wt</text>
<text x="93.17" y="520.80" font-size="10.2" text-anchor="middle" style="font-style:italic;" fill="#353535">wt</text>
<text x="111.54" y="520.80" font-size="10.2" text-anchor="middle" style="font-style:italic;" fill="#353535">se</text>
<text x="129.91" y="520.80" font-size="10.2" text-anchor="middle" style="font-style:italic;" fill="#353535">se</text>
<text x="148.28" y="520.80" font-size="10.2" text-anchor="middle" style="font-style:italic;" fill="#353535">wt</text>
<text x="166.65" y="520.80" font-size="10.2" text-anchor="middle" style="font-style:italic;" fill="#353535">wt</text>
<text x="185.02" y="520.80" font-size="10.2" text-anchor="middle" style="font-style:italic;" fill="#353535">se</text>
<text x="203.39" y="520.80" font-size="10.2" text-anchor="middle" style="font-style:italic;" fill="#353535">se</text>
<line x1="72.20" y1="531.80" x2="77.40" y2="531.80" stroke="#333" stroke-width="0.8"/>
<line x1="90.57" y1="531.80" x2="95.77" y2="531.80" stroke="#333" stroke-width="0.8"/>
<line x1="93.17" y1="529.20" x2="93.17" y2="534.40" stroke="#333" stroke-width="0.8"/>
<line x1="108.94" y1="531.80" x2="114.14" y2="531.80" stroke="#333" stroke-width="0.8"/>
<line x1="127.31" y1="531.80" x2="132.51" y2="531.80" stroke="#333" stroke-width="0.8"/>
<line x1="129.91" y1="529.20" x2="129.91" y2="534.40" stroke="#333" stroke-width="0.8"/>
<line x1="145.68" y1="531.80" x2="150.88" y2="531.80" stroke="#333" stroke-width="0.8"/>
<line x1="164.05" y1="531.80" x2="169.25" y2="531.80" stroke="#333" stroke-width="0.8"/>
<line x1="166.65" y1="529.20" x2="166.65" y2="534.40" stroke="#333" stroke-width="0.8"/>
<line x1="182.42" y1="531.80" x2="187.62" y2="531.80" stroke="#333" stroke-width="0.8"/>
<line x1="200.79" y1="531.80" x2="205.99" y2="531.80" stroke="#333" stroke-width="0.8"/>
<line x1="203.39" y1="529.20" x2="203.39" y2="534.40" stroke="#333" stroke-width="0.8"/>
<text transform="translate(29.20,450.60) rotate(-90)" font-size="11.6" text-anchor="middle" textLength="76.8" lengthAdjust="spacingAndGlyphs" style="" fill="#353535"><tspan style="font-style:italic">Hamp/Rpl19</tspan> mRNA</text>
<text transform="translate(44.00,452.20) rotate(-90)" font-size="10.2" text-anchor="middle" textLength="46.4" lengthAdjust="spacingAndGlyphs" style="" fill="#353535">fold change</text>
<line x1="358.60" y1="399.60" x2="358.60" y2="505.90" stroke="#1a1a1a" stroke-width="1.5"/>
<line x1="357.90" y1="505.20" x2="511.60" y2="505.20" stroke="#1a1a1a" stroke-width="1.5"/>
<line x1="355.70" y1="402.60" x2="358.60" y2="402.60" stroke="#1a1a1a" stroke-width="1.1"/>
<text x="351.40" y="406.20" font-size="10.3" text-anchor="end" textLength="10.3" lengthAdjust="spacingAndGlyphs" style="" fill="#353535">10</text>
<line x1="355.70" y1="419.70" x2="358.60" y2="419.70" stroke="#1a1a1a" stroke-width="1.1"/>
<text x="351.40" y="423.30" font-size="10.3" text-anchor="end" textLength="5.2" lengthAdjust="spacingAndGlyphs" style="" fill="#353535">1</text>
<line x1="355.70" y1="436.80" x2="358.60" y2="436.80" stroke="#1a1a1a" stroke-width="1.1"/>
<text x="351.40" y="440.40" font-size="10.3" text-anchor="end" textLength="12.9" lengthAdjust="spacingAndGlyphs" style="" fill="#353535">0.1</text>
<line x1="355.70" y1="453.90" x2="358.60" y2="453.90" stroke="#1a1a1a" stroke-width="1.1"/>
<text x="351.40" y="457.50" font-size="10.3" text-anchor="end" textLength="18.0" lengthAdjust="spacingAndGlyphs" style="" fill="#353535">0.01</text>
<line x1="355.70" y1="471.00" x2="358.60" y2="471.00" stroke="#1a1a1a" stroke-width="1.1"/>
<text x="351.40" y="474.60" font-size="10.3" text-anchor="end" textLength="23.2" lengthAdjust="spacingAndGlyphs" style="" fill="#353535">0.001</text>
<line x1="355.70" y1="488.10" x2="358.60" y2="488.10" stroke="#1a1a1a" stroke-width="1.1"/>
<text x="351.40" y="491.70" font-size="10.3" text-anchor="end" textLength="28.3" lengthAdjust="spacingAndGlyphs" style="" fill="#353535">0.0001</text>
<line x1="355.70" y1="505.20" x2="358.60" y2="505.20" stroke="#1a1a1a" stroke-width="1.1"/>
<text x="351.40" y="508.80" font-size="10.3" text-anchor="end" textLength="33.5" lengthAdjust="spacingAndGlyphs" style="" fill="#353535">0.00001</text>
<rect x="365.40" y="421.10" width="11.20" height="84.10" fill="#f58c00"/>
<line x1="371.00" y1="505.20" x2="371.00" y2="509.00" stroke="#1a1a1a" stroke-width="1.1"/>
<rect x="383.77" y="442.00" width="11.20" height="63.20" fill="url(#ho)"/>
<line x1="389.37" y1="505.20" x2="389.37" y2="509.00" stroke="#1a1a1a" stroke-width="1.1"/>
<rect x="402.14" y="473.60" width="11.20" height="31.60" fill="#9084c8"/>
<line x1="407.74" y1="505.20" x2="407.74" y2="509.00" stroke="#1a1a1a" stroke-width="1.1"/>
<rect x="420.51" y="479.70" width="11.20" height="25.50" fill="url(#hp)"/>
<line x1="426.11" y1="505.20" x2="426.11" y2="509.00" stroke="#1a1a1a" stroke-width="1.1"/>
<rect x="438.88" y="417.40" width="11.20" height="87.80" fill="#f58c00"/>
<line x1="444.48" y1="505.20" x2="444.48" y2="509.00" stroke="#1a1a1a" stroke-width="1.1"/>
<rect x="457.25" y="427.70" width="11.20" height="77.50" fill="url(#ho)"/>
<line x1="462.85" y1="505.20" x2="462.85" y2="509.00" stroke="#1a1a1a" stroke-width="1.1"/>
<rect x="475.62" y="461.30" width="11.20" height="43.90" fill="#9084c8"/>
<line x1="481.22" y1="505.20" x2="481.22" y2="509.00" stroke="#1a1a1a" stroke-width="1.1"/>
<rect x="493.99" y="476.20" width="11.20" height="29.00" fill="url(#hp)"/>
<line x1="499.59" y1="505.20" x2="499.59" y2="509.00" stroke="#1a1a1a" stroke-width="1.1"/>
<line x1="370.30" y1="409.70" x2="394.20" y2="409.70" stroke="#151515" stroke-width="1.2"/>
<path d="M382.25,404.15L382.25,407.25M383.59,404.93L380.91,406.47M383.59,406.47L380.91,404.93" stroke="#1a1a1a" stroke-width="1.05" stroke-linecap="round"/>
<line x1="441.20" y1="409.70" x2="465.10" y2="409.70" stroke="#151515" stroke-width="1.2"/>
<path d="M448.80,404.15L448.80,407.25M450.14,404.93L447.46,406.47M450.14,406.47L447.46,404.93" stroke="#1a1a1a" stroke-width="1.05" stroke-linecap="round"/>
<path d="M453.15,404.15L453.15,407.25M454.49,404.93L451.81,406.47M454.49,406.47L451.81,404.93" stroke="#1a1a1a" stroke-width="1.05" stroke-linecap="round"/>
<path d="M457.50,404.15L457.50,407.25M458.84,404.93L456.16,406.47M458.84,406.47L456.16,404.93" stroke="#1a1a1a" stroke-width="1.05" stroke-linecap="round"/>
<line x1="478.60" y1="409.70" x2="502.40" y2="409.70" stroke="#151515" stroke-width="1.2"/>
<path d="M490.50,404.15L490.50,407.25M491.84,404.93L489.16,406.47M491.84,406.47L489.16,404.93" stroke="#1a1a1a" stroke-width="1.05" stroke-linecap="round"/>
<line x1="365.50" y1="540.20" x2="431.40" y2="540.20" stroke="#353535" stroke-width="1.3"/>
<line x1="440.00" y1="540.20" x2="506.20" y2="540.20" stroke="#353535" stroke-width="1.3"/>
<text x="398.50" y="552.90" font-size="10.5" text-anchor="middle" textLength="21.3" lengthAdjust="spacingAndGlyphs" style="" fill="#353535">Male</text>
<text x="473.20" y="552.90" font-size="10.5" text-anchor="middle" textLength="30.8" lengthAdjust="spacingAndGlyphs" style="" fill="#353535">Female</text>
<text x="356.80" y="523.10" font-size="10.3" text-anchor="end" textLength="100.4" lengthAdjust="spacingAndGlyphs" style="" fill="#353535"><tspan style="font-style:italic">Bmp5</tspan><tspan font-size="7" dy="-3.8" style="font-style:italic">se</tspan><tspan dy="3.8" style="font-style:italic">-Bmp6</tspan><tspan font-size="7" dy="-3.8" style="font-style:italic">fl</tspan><tspan dy="3.8" style="font-style:italic">-Tek-Cre</tspan></text>
<text x="355.40" y="534.80" font-size="10.3" text-anchor="end" textLength="18.4" lengthAdjust="spacingAndGlyphs" style="" fill="#353535">EPO</text>
<line x1="368.40" y1="517.20" x2="373.60" y2="517.20" stroke="#333" stroke-width="0.8"/>
<line x1="386.77" y1="517.20" x2="391.97" y2="517.20" stroke="#333" stroke-width="0.8"/>
<line x1="405.14" y1="517.20" x2="410.34" y2="517.20" stroke="#333" stroke-width="0.8"/>
<line x1="407.74" y1="514.60" x2="407.74" y2="519.80" stroke="#333" stroke-width="0.8"/>
<line x1="423.51" y1="517.20" x2="428.71" y2="517.20" stroke="#333" stroke-width="0.8"/>
<line x1="426.11" y1="514.60" x2="426.11" y2="519.80" stroke="#333" stroke-width="0.8"/>
<line x1="441.88" y1="517.20" x2="447.08" y2="517.20" stroke="#333" stroke-width="0.8"/>
<line x1="460.25" y1="517.20" x2="465.45" y2="517.20" stroke="#333" stroke-width="0.8"/>
<line x1="478.62" y1="517.20" x2="483.82" y2="517.20" stroke="#333" stroke-width="0.8"/>
<line x1="481.22" y1="514.60" x2="481.22" y2="519.80" stroke="#333" stroke-width="0.8"/>
<line x1="496.99" y1="517.20" x2="502.19" y2="517.20" stroke="#333" stroke-width="0.8"/>
<line x1="499.59" y1="514.60" x2="499.59" y2="519.80" stroke="#333" stroke-width="0.8"/>
<line x1="368.40" y1="531.30" x2="373.60" y2="531.30" stroke="#333" stroke-width="0.8"/>
<line x1="386.77" y1="531.30" x2="391.97" y2="531.30" stroke="#333" stroke-width="0.8"/>
<line x1="389.37" y1="528.70" x2="389.37" y2="533.90" stroke="#333" stroke-width="0.8"/>
<line x1="405.14" y1="531.30" x2="410.34" y2="531.30" stroke="#333" stroke-width="0.8"/>
<line x1="423.51" y1="531.30" x2="428.71" y2="531.30" stroke="#333" stroke-width="0.8"/>
<line x1="426.11" y1="528.70" x2="426.11" y2="533.90" stroke="#333" stroke-width="0.8"/>
<line x1="441.88" y1="531.30" x2="447.08" y2="531.30" stroke="#333" stroke-width="0.8"/>
<line x1="460.25" y1="531.30" x2="465.45" y2="531.30" stroke="#333" stroke-width="0.8"/>
<line x1="462.85" y1="528.70" x2="462.85" y2="533.90" stroke="#333" stroke-width="0.8"/>
<line x1="478.62" y1="531.30" x2="483.82" y2="531.30" stroke="#333" stroke-width="0.8"/>
<line x1="496.99" y1="531.30" x2="502.19" y2="531.30" stroke="#333" stroke-width="0.8"/>
<line x1="499.59" y1="528.70" x2="499.59" y2="533.90" stroke="#333" stroke-width="0.8"/>
<text transform="translate(296.80,450.20) rotate(-90)" font-size="11.6" text-anchor="middle" textLength="76.0" lengthAdjust="spacingAndGlyphs" style="" fill="#353535"><tspan style="font-style:italic">Hamp/Rpl19</tspan> mRNA</text>
<text transform="translate(310.60,451.40) rotate(-90)" font-size="10.2" text-anchor="middle" textLength="46.4" lengthAdjust="spacingAndGlyphs" style="" fill="#353535">fold change</text>
<line x1="74.80" y1="279.50" x2="74.80" y2="284.00" stroke="#111" stroke-width="1.0"/>
<line x1="72.50" y1="279.50" x2="77.10" y2="279.50" stroke="#111" stroke-width="1.1"/>
<line x1="72.50" y1="284.00" x2="77.10" y2="284.00" stroke="#111" stroke-width="1.1"/>
<line x1="93.10" y1="240.00" x2="93.10" y2="246.50" stroke="#111" stroke-width="1.0"/>
<line x1="90.80" y1="240.00" x2="95.40" y2="240.00" stroke="#111" stroke-width="1.1"/>
<line x1="90.80" y1="246.50" x2="95.40" y2="246.50" stroke="#111" stroke-width="1.1"/>
<line x1="111.50" y1="278.50" x2="111.50" y2="283.50" stroke="#111" stroke-width="1.0"/>
<line x1="109.20" y1="278.50" x2="113.80" y2="278.50" stroke="#111" stroke-width="1.1"/>
<line x1="109.20" y1="283.50" x2="113.80" y2="283.50" stroke="#111" stroke-width="1.1"/>
<line x1="129.90" y1="237.80" x2="129.90" y2="243.50" stroke="#111" stroke-width="1.0"/>
<line x1="127.60" y1="237.80" x2="132.20" y2="237.80" stroke="#111" stroke-width="1.1"/>
<line x1="127.60" y1="243.50" x2="132.20" y2="243.50" stroke="#111" stroke-width="1.1"/>
<line x1="148.30" y1="283.80" x2="148.30" y2="287.50" stroke="#111" stroke-width="1.0"/>
<line x1="146.00" y1="283.80" x2="150.60" y2="283.80" stroke="#111" stroke-width="1.1"/>
<line x1="146.00" y1="287.50" x2="150.60" y2="287.50" stroke="#111" stroke-width="1.1"/>
<line x1="166.60" y1="233.80" x2="166.60" y2="237.60" stroke="#111" stroke-width="1.0"/>
<line x1="164.30" y1="233.80" x2="168.90" y2="233.80" stroke="#111" stroke-width="1.1"/>
<line x1="164.30" y1="237.60" x2="168.90" y2="237.60" stroke="#111" stroke-width="1.1"/>
<line x1="185.00" y1="275.70" x2="185.00" y2="287.00" stroke="#111" stroke-width="1.0"/>
<line x1="182.70" y1="275.70" x2="187.30" y2="275.70" stroke="#111" stroke-width="1.1"/>
<line x1="182.70" y1="287.00" x2="187.30" y2="287.00" stroke="#111" stroke-width="1.1"/>
<line x1="203.40" y1="236.50" x2="203.40" y2="240.50" stroke="#111" stroke-width="1.0"/>
<line x1="201.10" y1="236.50" x2="205.70" y2="236.50" stroke="#111" stroke-width="1.1"/>
<line x1="201.10" y1="240.50" x2="205.70" y2="240.50" stroke="#111" stroke-width="1.1"/>
<circle cx="74.60" cy="273.50" r="1.9" fill="#fff" stroke="#141414" stroke-width="1.2"/>
<circle cx="70.50" cy="280.40" r="1.9" fill="#fff" stroke="#141414" stroke-width="1.2"/>
<circle cx="74.80" cy="280.20" r="1.9" fill="#fff" stroke="#141414" stroke-width="1.2"/>
<circle cx="78.90" cy="281.00" r="1.9" fill="#fff" stroke="#141414" stroke-width="1.2"/>
<circle cx="70.50" cy="285.70" r="1.9" fill="#fff" stroke="#141414" stroke-width="1.2"/>
<circle cx="78.90" cy="285.70" r="1.9" fill="#fff" stroke="#141414" stroke-width="1.2"/>
<circle cx="88.90" cy="236.80" r="1.9" fill="#fff" stroke="#141414" stroke-width="1.2"/>
<circle cx="97.30" cy="239.30" r="1.9" fill="#fff" stroke="#141414" stroke-width="1.2"/>
<circle cx="88.90" cy="241.80" r="1.9" fill="#fff" stroke="#141414" stroke-width="1.2"/>
<circle cx="92.90" cy="242.40" r="1.9" fill="#fff" stroke="#141414" stroke-width="1.2"/>
<circle cx="97.30" cy="245.50" r="1.9" fill="#fff" stroke="#141414" stroke-width="1.2"/>
<circle cx="88.90" cy="247.40" r="1.9" fill="#fff" stroke="#141414" stroke-width="1.2"/>
<circle cx="107.70" cy="273.80" r="1.9" fill="#fff" stroke="#141414" stroke-width="1.2"/>
<circle cx="111.40" cy="277.00" r="1.9" fill="#fff" stroke="#141414" stroke-width="1.2"/>
<circle cx="107.70" cy="279.10" r="1.9" fill="#fff" stroke="#141414" stroke-width="1.2"/>
<circle cx="115.50" cy="280.40" r="1.9" fill="#fff" stroke="#141414" stroke-width="1.2"/>
<circle cx="111.40" cy="283.20" r="1.9" fill="#fff" stroke="#141414" stroke-width="1.2"/>
<circle cx="111.40" cy="287.50" r="1.9" fill="#fff" stroke="#141414" stroke-width="1.2"/>
<circle cx="133.80" cy="233.70" r="1.9" fill="#fff" stroke="#141414" stroke-width="1.2"/>
<circle cx="125.50" cy="235.60" r="1.9" fill="#fff" stroke="#141414" stroke-width="1.2"/>
<circle cx="133.80" cy="239.70" r="1.9" fill="#fff" stroke="#141414" stroke-width="1.2"/>
<circle cx="129.60" cy="243.40" r="1.9" fill="#fff" stroke="#141414" stroke-width="1.2"/>
<circle cx="125.50" cy="248.00" r="1.9" fill="#fff" stroke="#141414" stroke-width="1.2"/>
<circle cx="133.80" cy="248.00" r="1.9" fill="#fff" stroke="#141414" stroke-width="1.2"/>
<circle cx="147.90" cy="278.50" r="2.15" fill="#141414"/>
<circle cx="143.80" cy="284.10" r="2.15" fill="#141414"/>
<circle cx="147.00" cy="284.10" r="2.15" fill="#141414"/>
<circle cx="149.40" cy="286.00" r="2.15" fill="#141414"/>
<circle cx="152.20" cy="285.60" r="2.15" fill="#141414"/>
<circle cx="143.80" cy="288.40" r="2.15" fill="#141414"/>
<circle cx="162.50" cy="236.00" r="2.15" fill="#141414"/>
<circle cx="166.60" cy="235.20" r="2.15" fill="#141414"/>
<circle cx="170.80" cy="234.00" r="2.15" fill="#141414"/>
<circle cx="166.60" cy="238.90" r="2.15" fill="#141414"/>
<circle cx="170.60" cy="239.70" r="2.15" fill="#141414"/>
<circle cx="166.60" cy="243.90" r="2.15" fill="#141414"/>
<circle cx="180.50" cy="272.00" r="2.15" fill="#141414"/>
<circle cx="188.90" cy="271.00" r="2.15" fill="#141414"/>
<circle cx="180.50" cy="279.50" r="2.15" fill="#141414"/>
<circle cx="188.90" cy="279.10" r="2.15" fill="#141414"/>
<circle cx="184.60" cy="283.50" r="2.15" fill="#141414"/>
<circle cx="184.80" cy="298.50" r="2.15" fill="#141414"/>
<circle cx="198.90" cy="234.70" r="2.15" fill="#141414"/>
<circle cx="203.20" cy="234.00" r="2.15" fill="#141414"/>
<circle cx="207.30" cy="236.80" r="2.15" fill="#141414"/>
<circle cx="203.20" cy="240.20" r="2.15" fill="#141414"/>
<circle cx="207.30" cy="241.40" r="2.15" fill="#141414"/>
<circle cx="198.90" cy="244.90" r="2.15" fill="#141414"/>
<line x1="371.00" y1="279.50" x2="371.00" y2="285.00" stroke="#111" stroke-width="1.0"/>
<line x1="368.70" y1="279.50" x2="373.30" y2="279.50" stroke="#111" stroke-width="1.1"/>
<line x1="368.70" y1="285.00" x2="373.30" y2="285.00" stroke="#111" stroke-width="1.1"/>
<line x1="389.40" y1="228.50" x2="389.40" y2="234.50" stroke="#111" stroke-width="1.0"/>
<line x1="387.10" y1="228.50" x2="391.70" y2="228.50" stroke="#111" stroke-width="1.1"/>
<line x1="387.10" y1="234.50" x2="391.70" y2="234.50" stroke="#111" stroke-width="1.1"/>
<line x1="407.70" y1="278.30" x2="407.70" y2="284.00" stroke="#111" stroke-width="1.0"/>
<line x1="405.40" y1="278.30" x2="410.00" y2="278.30" stroke="#111" stroke-width="1.1"/>
<line x1="405.40" y1="284.00" x2="410.00" y2="284.00" stroke="#111" stroke-width="1.1"/>
<line x1="426.10" y1="224.50" x2="426.10" y2="231.50" stroke="#111" stroke-width="1.0"/>
<line x1="423.80" y1="224.50" x2="428.40" y2="224.50" stroke="#111" stroke-width="1.1"/>
<line x1="423.80" y1="231.50" x2="428.40" y2="231.50" stroke="#111" stroke-width="1.1"/>
<line x1="444.50" y1="273.00" x2="444.50" y2="279.00" stroke="#111" stroke-width="1.0"/>
<line x1="442.20" y1="273.00" x2="446.80" y2="273.00" stroke="#111" stroke-width="1.1"/>
<line x1="442.20" y1="279.00" x2="446.80" y2="279.00" stroke="#111" stroke-width="1.1"/>
<line x1="462.80" y1="232.30" x2="462.80" y2="238.00" stroke="#111" stroke-width="1.0"/>
<line x1="460.50" y1="232.30" x2="465.10" y2="232.30" stroke="#111" stroke-width="1.1"/>
<line x1="460.50" y1="238.00" x2="465.10" y2="238.00" stroke="#111" stroke-width="1.1"/>
<line x1="481.20" y1="274.70" x2="481.20" y2="279.50" stroke="#111" stroke-width="1.0"/>
<line x1="478.90" y1="274.70" x2="483.50" y2="274.70" stroke="#111" stroke-width="1.1"/>
<line x1="478.90" y1="279.50" x2="483.50" y2="279.50" stroke="#111" stroke-width="1.1"/>
<line x1="499.60" y1="237.80" x2="499.60" y2="241.50" stroke="#111" stroke-width="1.0"/>
<line x1="497.30" y1="237.80" x2="501.90" y2="237.80" stroke="#111" stroke-width="1.1"/>
<line x1="497.30" y1="241.50" x2="501.90" y2="241.50" stroke="#111" stroke-width="1.1"/>
<circle cx="366.80" cy="276.10" r="1.9" fill="#fff" stroke="#141414" stroke-width="1.2"/>
<circle cx="375.30" cy="276.40" r="1.9" fill="#fff" stroke="#141414" stroke-width="1.2"/>
<circle cx="366.80" cy="280.30" r="1.9" fill="#fff" stroke="#141414" stroke-width="1.2"/>
<circle cx="371.40" cy="279.60" r="1.9" fill="#fff" stroke="#141414" stroke-width="1.2"/>
<circle cx="375.30" cy="282.90" r="1.9" fill="#fff" stroke="#141414" stroke-width="1.2"/>
<circle cx="370.70" cy="291.00" r="1.9" fill="#fff" stroke="#141414" stroke-width="1.2"/>
<circle cx="385.30" cy="223.80" r="1.9" fill="#fff" stroke="#141414" stroke-width="1.2"/>
<circle cx="393.80" cy="226.60" r="1.9" fill="#fff" stroke="#141414" stroke-width="1.2"/>
<circle cx="385.30" cy="229.50" r="1.9" fill="#fff" stroke="#141414" stroke-width="1.2"/>
<circle cx="389.10" cy="229.20" r="1.9" fill="#fff" stroke="#141414" stroke-width="1.2"/>
<circle cx="393.80" cy="234.60" r="1.9" fill="#fff" stroke="#141414" stroke-width="1.2"/>
<circle cx="385.30" cy="238.00" r="1.9" fill="#fff" stroke="#141414" stroke-width="1.2"/>
<circle cx="405.70" cy="273.20" r="1.9" fill="#fff" stroke="#141414" stroke-width="1.2"/>
<circle cx="410.20" cy="275.80" r="1.9" fill="#fff" stroke="#141414" stroke-width="1.2"/>
<circle cx="403.80" cy="284.90" r="1.9" fill="#fff" stroke="#141414" stroke-width="1.2"/>
<circle cx="408.10" cy="282.90" r="1.9" fill="#fff" stroke="#141414" stroke-width="1.2"/>
<circle cx="412.30" cy="283.90" r="1.9" fill="#fff" stroke="#141414" stroke-width="1.2"/>
<circle cx="425.80" cy="220.70" r="1.9" fill="#fff" stroke="#141414" stroke-width="1.2"/>
<circle cx="430.80" cy="225.20" r="1.9" fill="#fff" stroke="#141414" stroke-width="1.2"/>
<circle cx="421.90" cy="227.80" r="1.9" fill="#fff" stroke="#141414" stroke-width="1.2"/>
<circle cx="425.80" cy="231.30" r="1.9" fill="#fff" stroke="#141414" stroke-width="1.2"/>
<circle cx="425.80" cy="236.30" r="1.9" fill="#fff" stroke="#141414" stroke-width="1.2"/>
<circle cx="425.80" cy="240.30" r="1.9" fill="#fff" stroke="#141414" stroke-width="1.2"/>
<circle cx="440.40" cy="268.70" r="2.15" fill="#141414"/>
<circle cx="448.60" cy="270.10" r="2.15" fill="#141414"/>
<circle cx="440.40" cy="273.50" r="2.15" fill="#141414"/>
<circle cx="440.40" cy="279.60" r="2.15" fill="#141414"/>
<circle cx="448.60" cy="283.50" r="2.15" fill="#141414"/>
<circle cx="440.40" cy="284.90" r="2.15" fill="#141414"/>
<circle cx="458.60" cy="228.90" r="2.15" fill="#141414"/>
<circle cx="467.10" cy="228.10" r="2.15" fill="#141414"/>
<circle cx="458.60" cy="234.20" r="2.15" fill="#141414"/>
<circle cx="467.10" cy="232.30" r="2.15" fill="#141414"/>
<circle cx="467.10" cy="236.60" r="2.15" fill="#141414"/>
<circle cx="462.50" cy="243.10" r="2.15" fill="#141414"/>
<circle cx="481.10" cy="267.30" r="2.15" fill="#141414"/>
<circle cx="476.80" cy="269.70" r="2.15" fill="#141414"/>
<circle cx="476.80" cy="275.40" r="2.15" fill="#141414"/>
<circle cx="485.30" cy="273.20" r="2.15" fill="#141414"/>
<circle cx="485.30" cy="277.50" r="2.15" fill="#141414"/>
<circle cx="476.80" cy="280.10" r="2.15" fill="#141414"/>
<circle cx="476.80" cy="284.30" r="2.15" fill="#141414"/>
<circle cx="481.40" cy="283.20" r="2.15" fill="#141414"/>
<circle cx="485.30" cy="283.50" r="2.15" fill="#141414"/>
<circle cx="499.50" cy="230.30" r="2.15" fill="#141414"/>
<circle cx="497.00" cy="235.60" r="2.15" fill="#141414"/>
<circle cx="502.00" cy="235.60" r="2.15" fill="#141414"/>
<circle cx="495.30" cy="239.90" r="2.15" fill="#141414"/>
<circle cx="503.80" cy="237.70" r="2.15" fill="#141414"/>
<circle cx="499.10" cy="238.40" r="2.15" fill="#141414"/>
<circle cx="503.80" cy="242.00" r="2.15" fill="#141414"/>
<circle cx="497.50" cy="237.00" r="2.15" fill="#141414"/>
<line x1="74.80" y1="477.50" x2="74.80" y2="484.00" stroke="#111" stroke-width="1.0"/>
<line x1="72.50" y1="477.50" x2="77.10" y2="477.50" stroke="#111" stroke-width="1.1"/>
<line x1="72.50" y1="484.00" x2="77.10" y2="484.00" stroke="#111" stroke-width="1.1"/>
<line x1="93.10" y1="498.20" x2="93.10" y2="503.00" stroke="#111" stroke-width="1.0"/>
<line x1="90.80" y1="498.20" x2="95.40" y2="498.20" stroke="#111" stroke-width="1.1"/>
<line x1="90.80" y1="503.00" x2="95.40" y2="503.00" stroke="#111" stroke-width="1.1"/>
<line x1="111.50" y1="471.80" x2="111.50" y2="479.50" stroke="#111" stroke-width="1.0"/>
<line x1="109.20" y1="471.80" x2="113.80" y2="471.80" stroke="#111" stroke-width="1.1"/>
<line x1="109.20" y1="479.50" x2="113.80" y2="479.50" stroke="#111" stroke-width="1.1"/>
<line x1="129.90" y1="502.80" x2="129.90" y2="504.00" stroke="#111" stroke-width="1.0"/>
<line x1="127.60" y1="502.80" x2="132.20" y2="502.80" stroke="#111" stroke-width="1.1"/>
<line x1="127.60" y1="504.00" x2="132.20" y2="504.00" stroke="#111" stroke-width="1.1"/>
<line x1="148.30" y1="446.40" x2="148.30" y2="461.50" stroke="#111" stroke-width="1.0"/>
<line x1="146.00" y1="446.40" x2="150.60" y2="446.40" stroke="#111" stroke-width="1.1"/>
<line x1="146.00" y1="461.50" x2="150.60" y2="461.50" stroke="#111" stroke-width="1.1"/>
<line x1="166.60" y1="496.50" x2="166.60" y2="502.00" stroke="#111" stroke-width="1.0"/>
<line x1="164.30" y1="496.50" x2="168.90" y2="496.50" stroke="#111" stroke-width="1.1"/>
<line x1="164.30" y1="502.00" x2="168.90" y2="502.00" stroke="#111" stroke-width="1.1"/>
<line x1="185.00" y1="453.40" x2="185.00" y2="465.50" stroke="#111" stroke-width="1.0"/>
<line x1="182.70" y1="453.40" x2="187.30" y2="453.40" stroke="#111" stroke-width="1.1"/>
<line x1="182.70" y1="465.50" x2="187.30" y2="465.50" stroke="#111" stroke-width="1.1"/>
<line x1="203.40" y1="490.00" x2="203.40" y2="495.00" stroke="#111" stroke-width="1.0"/>
<line x1="201.10" y1="490.00" x2="205.70" y2="490.00" stroke="#111" stroke-width="1.1"/>
<line x1="201.10" y1="495.00" x2="205.70" y2="495.00" stroke="#111" stroke-width="1.1"/>
<circle cx="78.80" cy="473.30" r="1.9" fill="#fff" stroke="#141414" stroke-width="1.2"/>
<circle cx="74.40" cy="475.30" r="1.9" fill="#fff" stroke="#141414" stroke-width="1.2"/>
<circle cx="70.00" cy="477.60" r="1.9" fill="#fff" stroke="#141414" stroke-width="1.2"/>
<circle cx="78.80" cy="478.80" r="1.9" fill="#fff" stroke="#141414" stroke-width="1.2"/>
<circle cx="74.40" cy="482.60" r="1.9" fill="#fff" stroke="#141414" stroke-width="1.2"/>
<circle cx="74.40" cy="490.30" r="1.9" fill="#fff" stroke="#141414" stroke-width="1.2"/>
<circle cx="91.20" cy="493.00" r="1.9" fill="#fff" stroke="#141414" stroke-width="1.2"/>
<circle cx="88.50" cy="497.00" r="1.9" fill="#fff" stroke="#141414" stroke-width="1.2"/>
<circle cx="94.30" cy="499.10" r="1.9" fill="#fff" stroke="#141414" stroke-width="1.2"/>
<circle cx="88.90" cy="502.80" r="1.9" fill="#fff" stroke="#141414" stroke-width="1.2"/>
<circle cx="92.30" cy="502.80" r="1.9" fill="#fff" stroke="#141414" stroke-width="1.2"/>
<circle cx="96.90" cy="501.60" r="1.9" fill="#fff" stroke="#141414" stroke-width="1.2"/>
<circle cx="111.30" cy="464.60" r="1.9" fill="#fff" stroke="#141414" stroke-width="1.2"/>
<circle cx="107.00" cy="470.50" r="1.9" fill="#fff" stroke="#141414" stroke-width="1.2"/>
<circle cx="115.50" cy="470.50" r="1.9" fill="#fff" stroke="#141414" stroke-width="1.2"/>
<circle cx="111.30" cy="477.70" r="1.9" fill="#fff" stroke="#141414" stroke-width="1.2"/>
<circle cx="107.00" cy="485.50" r="1.9" fill="#fff" stroke="#141414" stroke-width="1.2"/>
<circle cx="115.50" cy="483.90" r="1.9" fill="#fff" stroke="#141414" stroke-width="1.2"/>
<circle cx="125.00" cy="503.90" r="1.9" fill="#fff" stroke="#141414" stroke-width="1.2"/>
<circle cx="127.90" cy="503.10" r="1.9" fill="#fff" stroke="#141414" stroke-width="1.2"/>
<circle cx="129.80" cy="503.00" r="1.9" fill="#fff" stroke="#141414" stroke-width="1.2"/>
<circle cx="132.30" cy="503.50" r="1.9" fill="#fff" stroke="#141414" stroke-width="1.2"/>
<circle cx="134.20" cy="503.90" r="1.9" fill="#fff" stroke="#141414" stroke-width="1.2"/>
<circle cx="148.00" cy="422.10" r="2.15" fill="#141414"/>
<circle cx="148.00" cy="450.50" r="2.15" fill="#141414"/>
<circle cx="148.00" cy="456.50" r="2.15" fill="#141414"/>
<circle cx="148.00" cy="461.50" r="2.15" fill="#141414"/>
<circle cx="143.70" cy="465.40" r="2.15" fill="#141414"/>
<circle cx="152.10" cy="464.20" r="2.15" fill="#141414"/>
<circle cx="161.90" cy="492.10" r="2.15" fill="#141414"/>
<circle cx="165.80" cy="492.10" r="2.15" fill="#141414"/>
<circle cx="169.90" cy="492.10" r="2.15" fill="#141414"/>
<circle cx="166.30" cy="496.70" r="2.15" fill="#141414"/>
<circle cx="162.80" cy="502.40" r="2.15" fill="#141414"/>
<circle cx="169.90" cy="501.50" r="2.15" fill="#141414"/>
<circle cx="180.40" cy="444.20" r="2.15" fill="#141414"/>
<circle cx="188.90" cy="442.50" r="2.15" fill="#141414"/>
<circle cx="184.20" cy="456.30" r="2.15" fill="#141414"/>
<circle cx="184.20" cy="462.70" r="2.15" fill="#141414"/>
<circle cx="184.20" cy="474.00" r="2.15" fill="#141414"/>
<circle cx="184.20" cy="481.40" r="2.15" fill="#141414"/>
<circle cx="203.10" cy="484.30" r="2.15" fill="#141414"/>
<circle cx="198.40" cy="492.50" r="2.15" fill="#141414"/>
<circle cx="207.40" cy="490.40" r="2.15" fill="#141414"/>
<circle cx="207.00" cy="495.30" r="2.15" fill="#141414"/>
<circle cx="198.40" cy="498.90" r="2.15" fill="#141414"/>
<circle cx="202.40" cy="493.20" r="2.15" fill="#141414"/>
<line x1="371.00" y1="419.00" x2="371.00" y2="424.00" stroke="#111" stroke-width="1.0"/>
<line x1="368.70" y1="419.00" x2="373.30" y2="419.00" stroke="#111" stroke-width="1.1"/>
<line x1="368.70" y1="424.00" x2="373.30" y2="424.00" stroke="#111" stroke-width="1.1"/>
<line x1="389.40" y1="436.00" x2="389.40" y2="443.70" stroke="#111" stroke-width="1.0"/>
<line x1="387.10" y1="436.00" x2="391.70" y2="436.00" stroke="#111" stroke-width="1.1"/>
<line x1="387.10" y1="443.70" x2="391.70" y2="443.70" stroke="#111" stroke-width="1.1"/>
<line x1="407.70" y1="470.50" x2="407.70" y2="477.70" stroke="#111" stroke-width="1.0"/>
<line x1="405.40" y1="470.50" x2="410.00" y2="470.50" stroke="#111" stroke-width="1.1"/>
<line x1="405.40" y1="477.70" x2="410.00" y2="477.70" stroke="#111" stroke-width="1.1"/>
<line x1="426.10" y1="476.00" x2="426.10" y2="482.00" stroke="#111" stroke-width="1.0"/>
<line x1="423.80" y1="476.00" x2="428.40" y2="476.00" stroke="#111" stroke-width="1.1"/>
<line x1="423.80" y1="482.00" x2="428.40" y2="482.00" stroke="#111" stroke-width="1.1"/>
<line x1="444.50" y1="416.00" x2="444.50" y2="418.50" stroke="#111" stroke-width="1.0"/>
<line x1="442.20" y1="416.00" x2="446.80" y2="416.00" stroke="#111" stroke-width="1.1"/>
<line x1="442.20" y1="418.50" x2="446.80" y2="418.50" stroke="#111" stroke-width="1.1"/>
<line x1="462.80" y1="425.60" x2="462.80" y2="430.50" stroke="#111" stroke-width="1.0"/>
<line x1="460.50" y1="425.60" x2="465.10" y2="425.60" stroke="#111" stroke-width="1.1"/>
<line x1="460.50" y1="430.50" x2="465.10" y2="430.50" stroke="#111" stroke-width="1.1"/>
<line x1="481.20" y1="456.80" x2="481.20" y2="463.00" stroke="#111" stroke-width="1.0"/>
<line x1="478.90" y1="456.80" x2="483.50" y2="456.80" stroke="#111" stroke-width="1.1"/>
<line x1="478.90" y1="463.00" x2="483.50" y2="463.00" stroke="#111" stroke-width="1.1"/>
<line x1="499.60" y1="474.50" x2="499.60" y2="478.00" stroke="#111" stroke-width="1.0"/>
<line x1="497.30" y1="474.50" x2="501.90" y2="474.50" stroke="#111" stroke-width="1.1"/>
<line x1="497.30" y1="478.00" x2="501.90" y2="478.00" stroke="#111" stroke-width="1.1"/>
<circle cx="366.70" cy="415.60" r="1.9" fill="#fff" stroke="#141414" stroke-width="1.2"/>
<circle cx="375.30" cy="417.10" r="1.9" fill="#fff" stroke="#141414" stroke-width="1.2"/>
<circle cx="366.40" cy="421.20" r="1.9" fill="#fff" stroke="#141414" stroke-width="1.2"/>
<circle cx="371.00" cy="421.20" r="1.9" fill="#fff" stroke="#141414" stroke-width="1.2"/>
<circle cx="375.00" cy="422.90" r="1.9" fill="#fff" stroke="#141414" stroke-width="1.2"/>
<circle cx="371.00" cy="430.40" r="1.9" fill="#fff" stroke="#141414" stroke-width="1.2"/>
<circle cx="389.50" cy="431.60" r="1.9" fill="#fff" stroke="#141414" stroke-width="1.2"/>
<circle cx="385.20" cy="441.10" r="1.9" fill="#fff" stroke="#141414" stroke-width="1.2"/>
<circle cx="393.50" cy="439.70" r="1.9" fill="#fff" stroke="#141414" stroke-width="1.2"/>
<circle cx="393.50" cy="449.90" r="1.9" fill="#fff" stroke="#141414" stroke-width="1.2"/>
<circle cx="385.20" cy="453.80" r="1.9" fill="#fff" stroke="#141414" stroke-width="1.2"/>
<circle cx="403.60" cy="467.20" r="1.9" fill="#fff" stroke="#141414" stroke-width="1.2"/>
<circle cx="411.90" cy="469.20" r="1.9" fill="#fff" stroke="#141414" stroke-width="1.2"/>
<circle cx="403.60" cy="478.50" r="1.9" fill="#fff" stroke="#141414" stroke-width="1.2"/>
<circle cx="411.90" cy="480.00" r="1.9" fill="#fff" stroke="#141414" stroke-width="1.2"/>
<circle cx="407.70" cy="495.60" r="1.9" fill="#fff" stroke="#141414" stroke-width="1.2"/>
<circle cx="421.90" cy="476.00" r="1.9" fill="#fff" stroke="#141414" stroke-width="1.2"/>
<circle cx="426.10" cy="475.00" r="1.9" fill="#fff" stroke="#141414" stroke-width="1.2"/>
<circle cx="430.20" cy="477.30" r="1.9" fill="#fff" stroke="#141414" stroke-width="1.2"/>
<circle cx="426.10" cy="485.30" r="1.9" fill="#fff" stroke="#141414" stroke-width="1.2"/>
<circle cx="426.10" cy="498.80" r="1.9" fill="#fff" stroke="#141414" stroke-width="1.2"/>
<circle cx="440.20" cy="416.60" r="2.15" fill="#141414"/>
<circle cx="442.20" cy="414.20" r="2.15" fill="#141414"/>
<circle cx="445.10" cy="414.50" r="2.15" fill="#141414"/>
<circle cx="446.60" cy="416.60" r="2.15" fill="#141414"/>
<circle cx="449.00" cy="416.60" r="2.15" fill="#141414"/>
<circle cx="443.60" cy="416.60" r="2.15" fill="#141414"/>
<circle cx="458.40" cy="423.50" r="2.15" fill="#141414"/>
<circle cx="466.80" cy="421.00" r="2.15" fill="#141414"/>
<circle cx="462.80" cy="428.10" r="2.15" fill="#141414"/>
<circle cx="458.40" cy="434.50" r="2.15" fill="#141414"/>
<circle cx="466.80" cy="435.30" r="2.15" fill="#141414"/>
<circle cx="462.80" cy="439.10" r="2.15" fill="#141414"/>
<circle cx="481.20" cy="449.30" r="2.15" fill="#141414"/>
<circle cx="481.20" cy="454.30" r="2.15" fill="#141414"/>
<circle cx="476.80" cy="458.00" r="2.15" fill="#141414"/>
<circle cx="485.50" cy="461.40" r="2.15" fill="#141414"/>
<circle cx="476.80" cy="464.30" r="2.15" fill="#141414"/>
<circle cx="485.50" cy="467.10" r="2.15" fill="#141414"/>
<circle cx="476.80" cy="472.60" r="2.15" fill="#141414"/>
<circle cx="485.50" cy="474.60" r="2.15" fill="#141414"/>
<circle cx="481.20" cy="481.30" r="2.15" fill="#141414"/>
<circle cx="499.60" cy="467.40" r="2.15" fill="#141414"/>
<circle cx="503.80" cy="473.30" r="2.15" fill="#141414"/>
<circle cx="495.50" cy="476.10" r="2.15" fill="#141414"/>
<circle cx="498.60" cy="475.40" r="2.15" fill="#141414"/>
<circle cx="503.30" cy="477.10" r="2.15" fill="#141414"/>
<circle cx="498.60" cy="479.60" r="2.15" fill="#141414"/>
<circle cx="501.30" cy="482.30" r="2.15" fill="#141414"/>
<circle cx="499.60" cy="490.40" r="2.15" fill="#141414"/>
<rect x="0.5" y="0.5" width="519" height="562" fill="none" stroke="#474747" stroke-width="1"/></svg></body></html>
